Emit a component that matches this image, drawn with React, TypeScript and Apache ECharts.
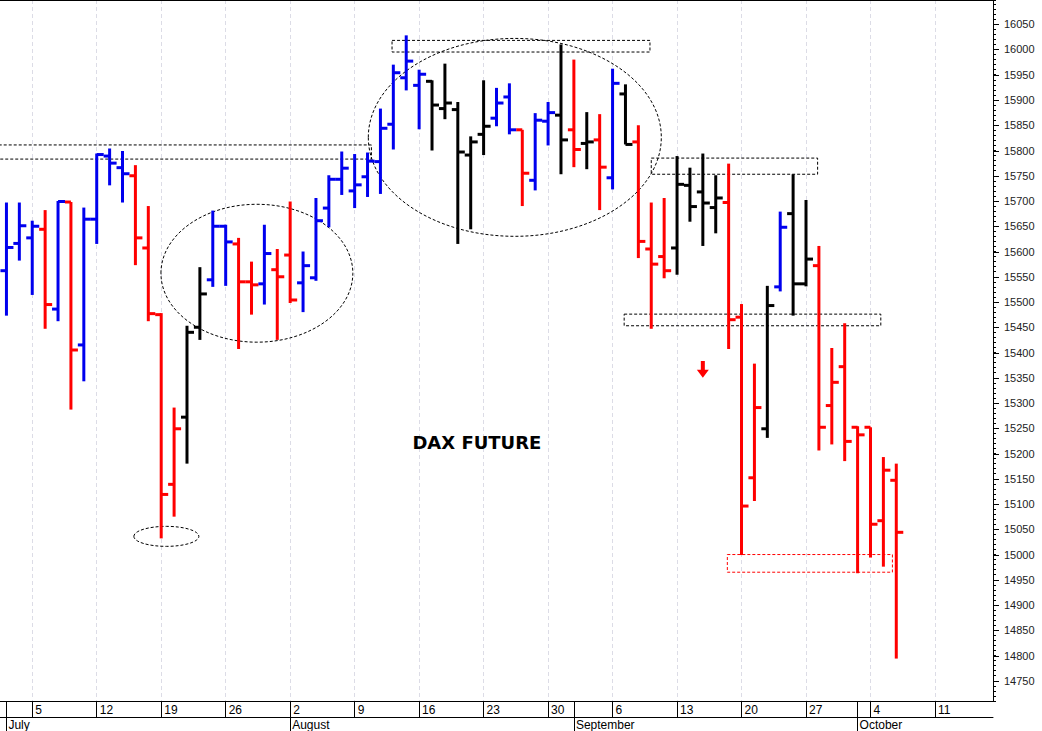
import React, { useEffect, useRef } from 'react';
import * as echarts from 'echarts';

// ---- calendar (trading days, 2021) ----
const julyDays = [1, 2, 5, 6, 7, 8, 9, 12, 13, 14, 15, 16, 19, 20, 21, 22, 23, 26, 27, 28, 29, 30];
const augustDays = [2, 3, 4, 5, 6, 9, 10, 11, 12, 13, 16, 17, 18, 19, 20, 23, 24, 25, 26, 27, 30, 31];
const septemberDays = [1, 2, 3, 6, 7, 8, 9, 10, 13, 14, 15, 16, 17, 20, 21, 22, 23, 24, 27, 28, 29, 30];
const octoberDays = [1, 4, 5, 6, 7, 8, 11, 12, 13, 14, 15];
const monthNames = ['July', 'August', 'September', 'October'];

// ---- DAX future daily OHLC ----
const open = [
  15562, 15616, 15627, 15644, 15486, 15698, 15415, 15664, 15789, 15766,
  15750, 15607, 15475, 15139, 15272, 15450, 15544, 15650, 15615, 15540,
  15536, 15564, 15593, 15538, 15548, 15686, 15743, 15720, 15748, 15778,
  15852, 15944, 15929, 15937, 15883, 15881, 15791, 15832, 15864, 15906,
  15841, 15741, 15858, 15870, 15841, 15814, 15821, 15746, 15912, 15817,
  15605, 15590, 15607, 15731, 15718, 15687, 15697, 15470, 15152, 15249,
  15530, 15675, 15536, 15572, 15295, 15372, 15252, 15252, 15067, 15147,
];
const high = [
  15697, 15697, 15661, 15682, 15700, 15698, 15687, 15794, 15804, 15799,
  15771, 15690, 15478, 15291, 15453, 15569, 15681, 15653, 15627, 15580,
  15653, 15605, 15699, 15600, 15706, 15751, 15798, 15793, 15796, 15883,
  15970, 16028, 15960, 15939, 15972, 15896, 15828, 15939, 15924, 15933,
  15841, 15874, 15896, 16010, 15980, 15876, 15872, 15962, 15931, 15850,
  15697, 15706, 15789, 15766, 15794, 15751, 15774, 15496, 15378, 15532,
  15679, 15753, 15702, 15611, 15409, 15458, 15254, 15252, 15193, 15180,
];
const low = [
  15473, 15582, 15514, 15447, 15462, 15287, 15343, 15615, 15731, 15697,
  15573, 15462, 15032, 15075, 15180, 15425, 15530, 15532, 15407, 15475,
  15495, 15425, 15498, 15480, 15542, 15648, 15712, 15686, 15708, 15714,
  15802, 15919, 15842, 15800, 15862, 15615, 15644, 15791, 15848, 15832,
  15690, 15721, 15810, 15753, 15767, 15763, 15682, 15723, 15812, 15587,
  15447, 15547, 15554, 15659, 15611, 15636, 15407, 14999, 15106, 15231,
  15521, 15473, 15531, 15206, 15218, 15185, 14963, 14994, 14976, 14794,
];
const close = [
  15608, 15651, 15650, 15495, 15699, 15405, 15664, 15792, 15775, 15754,
  15627, 15477, 15119, 15249, 15440, 15516, 15650, 15619, 15540, 15534,
  15596, 15550, 15504, 15572, 15661, 15743, 15765, 15732, 15779, 15844,
  15954, 15977, 15951, 15890, 15894, 15797, 15817, 15848, 15894, 15841,
  15755, 15860, 15875, 15821, 15802, 15817, 15767, 15933, 15812, 15620,
  15575, 15562, 15733, 15689, 15696, 15706, 15465, 15096, 15291, 15493,
  15648, 15536, 15585, 15252, 15341, 15224, 15237, 15060, 15167, 15044,
];
// B = blue, R = red, K = black (indicator colouring)
const barState = [
  'B', 'B', 'B', 'R', 'B', 'R', 'B', 'B', 'B', 'B',
  'R', 'R', 'R', 'R', 'K', 'K', 'B', 'B', 'R', 'R',
  'B', 'R', 'R', 'B', 'B', 'B', 'B', 'B', 'B', 'B',
  'B', 'B', 'B', 'K', 'K', 'K', 'K', 'K', 'B', 'B',
  'R', 'B', 'B', 'K', 'R', 'K', 'R', 'B', 'K', 'R',
  'R', 'R', 'K', 'K', 'K', 'K', 'R', 'R', 'R', 'K',
  'B', 'K', 'K', 'R', 'R', 'R', 'R', 'R', 'R', 'R',
];

const yTickLabels = [
  14750, 14800, 14850, 14900, 14950, 15000, 15050, 15100, 15150, 15200,
  15250, 15300, 15350, 15400, 15450, 15500, 15550, 15600, 15650, 15700,
  15750, 15800, 15850, 15900, 15950, 16000, 16050,
];

// ---- annotations (data coordinates: category index, price) ----
const zones = [
  { x0: -0.6, x1: 28.3, lo: 15783, hi: 15811, red: false },
  { x0: 29.9, x1: 49.9, lo: 15995, hi: 16018, red: false },
  { x0: 50.0, x1: 62.9, lo: 15753, hi: 15785, red: false },
  { x0: 47.9, x1: 67.8, lo: 15453, hi: 15476, red: false },
  { x0: 55.9, x1: 68.7, lo: 14965, hi: 15000, red: true },
];
const ellipses = [
  { cx: 12.4, cy: 15036, rx: 2.52, ry: 19.8 },
  { cx: 19.42, cy: 15557, rx: 7.44, ry: 136.5 },
  { cx: 39.42, cy: 15826, rx: 11.36, ry: 195.9 },
];
const arrowMark = { x: 54, top: 15383, bottom: 15350 };
const titleMark = { x: 36.48, y: 15221, text: 'DAX FUTURE' };

const pad = (n: number) => (n < 10 ? '0' + n : '' + n);
const dates: string[] = [
  ...julyDays.map((d) => `2021-07-${pad(d)}`),
  ...augustDays.map((d) => `2021-08-${pad(d)}`),
  ...septemberDays.map((d) => `2021-09-${pad(d)}`),
  ...octoberDays.map((d) => `2021-10-${pad(d)}`),
];
const isMonday = dates.map((s) => new Date(+s.slice(0, 4), +s.slice(5, 7) - 1, +s.slice(8, 10)).getDay() === 1);
const isMonthStart = dates.map((s, i) => i === 0 || s.slice(5, 7) !== dates[i - 1].slice(5, 7));

const COLORS: Record<string, string> = { B: '#0000ee', R: '#ff0000', K: '#000000' };
const FONT = '"Liberation Sans", Arial, Helvetica, sans-serif';
const TITLE_FONT = '"DejaVu Sans", Verdana, sans-serif';

export default function App() {
  const ref = useRef<HTMLDivElement>(null);
  useEffect(() => {
    if (!ref.current) return;
    const chart = echarts.init(ref.current, null, { renderer: 'svg' });

    const ohlcData = open.map((o, i) => [i, o, high[i], low[i], close[i]]);

    const option: any = {
      animation: false,
      backgroundColor: '#ffffff',
      grid: { left: 0, right: 49, top: 0, bottom: 30, containLabel: false },
      xAxis: [
        {
          type: 'category',
          data: dates,
          boundaryGap: true,
          position: 'bottom',
          axisLine: { show: true, onZero: false, lineStyle: { color: '#000', width: 1 } },
          axisTick: {
            show: true,
            alignWithLabel: true,
            interval: (i: number) => isMonday[i] || isMonthStart[i],
            length: 16,
            lineStyle: { color: '#000', width: 1 },
          },
          axisLabel: {
            show: true,
            interval: (i: number) => isMonday[i],
            formatter: (v: string) => String(+v.slice(8, 10)),
            align: 'left',
            verticalAlign: 'middle',
            margin: 9,
            padding: [0, 0, 0, 3],
            color: '#000',
            fontSize: 12,
            fontFamily: FONT,
          },
          splitLine: {
            show: true,
            alignWithLabel: true,
            interval: (i: number) => isMonday[i],
            lineStyle: { color: '#dcdce6', width: 1, type: [4, 3] },
          },
        },
        {
          type: 'category',
          data: dates,
          boundaryGap: true,
          position: 'bottom',
          offset: 16,
          axisLine: { show: true, onZero: false, lineStyle: { color: '#000', width: 1 } },
          axisTick: {
            show: true,
            alignWithLabel: true,
            interval: (i: number) => isMonthStart[i],
            length: 14,
            lineStyle: { color: '#000', width: 1 },
          },
          axisLabel: {
            show: true,
            interval: (i: number) => isMonthStart[i],
            formatter: (v: string) => monthNames[+v.slice(5, 7) - 7],
            align: 'left',
            verticalAlign: 'middle',
            margin: 8,
            padding: [0, 0, 0, 2],
            color: '#000',
            fontSize: 12,
            fontFamily: FONT,
          },
          splitLine: { show: false },
        },
        {
          type: 'category',
          data: dates,
          position: 'top',
          axisLine: { show: true, onZero: false, lineStyle: { color: '#000', width: 1 } },
          axisTick: { show: false },
          axisLabel: { show: false },
          splitLine: { show: false },
        },
      ],
      yAxis: {
        type: 'value',
        position: 'right',
        min: 14710,
        max: 16098,
        interval: 10,
        axisLine: { show: true, onZero: false, lineStyle: { color: '#000', width: 1 } },
        axisTick: { show: true, length: 3, lineStyle: { color: '#000', width: 1 } },
        axisLabel: {
          show: true,
          margin: 11,
          formatter: (v: number) => (yTickLabels.indexOf(Math.round(v)) >= 0 ? String(Math.round(v)) : ''),
          color: '#222',
          fontSize: 11,
          fontFamily: FONT,
        },
        splitLine: { show: false },
      },
      series: [
        {
          name: 'annotations',
          type: 'custom',
          z: 1,
          silent: true,
          data: [[0, 15500]],
          encode: { x: 0, y: 1 },
          renderItem: (params: any, api: any) => {
            const band = api.size([1, 0])[0];
            const px = (xi: number, price: number) => {
              const p = api.coord([0, price]);
              return [p[0] + xi * band, p[1]];
            };
            const children: any[] = [];
            zones.forEach((z) => {
              const a = px(z.x0, z.hi);
              const b = px(z.x1, z.lo);
              children.push({
                type: 'rect',
                shape: { x: a[0], y: a[1], width: b[0] - a[0], height: b[1] - a[1] },
                style: { fill: 'none', stroke: z.red ? '#ff0000' : '#000', lineWidth: 1, lineDash: [3, 2] },
              });
            });
            ellipses.forEach((e) => {
              const c = px(e.cx, e.cy);
              const r = px(e.cx + e.rx, e.cy - e.ry);
              children.push({
                type: 'ellipse',
                shape: { cx: c[0], cy: c[1], rx: r[0] - c[0], ry: r[1] - c[1] },
                style: { fill: 'none', stroke: '#000', lineWidth: 1, lineDash: [3, 2] },
              });
            });
            const at = px(arrowMark.x, arrowMark.top);
            const ab = px(arrowMark.x, arrowMark.bottom);
            const cx = at[0];
            const hh = 8;
            children.push({
              type: 'polygon',
              shape: {
                points: [
                  [cx - 2, at[1]], [cx + 2, at[1]], [cx + 2, ab[1] - hh], [cx + 6, ab[1] - hh],
                  [cx, ab[1]], [cx - 6, ab[1] - hh], [cx - 2, ab[1] - hh],
                ],
              },
              style: { fill: '#ff0000', stroke: 'none' },
            });
            const t = px(titleMark.x, titleMark.y);
            children.push({
              type: 'text',
              x: t[0],
              y: t[1],
              style: {
                text: titleMark.text,
                fill: '#000',
                font: `bold 18px ${TITLE_FONT}`,
                align: 'center',
                verticalAlign: 'middle',
              },
            });
            return { type: 'group', children };
          },
        },
        {
          name: 'majorTicks',
          type: 'custom',
          z: 2,
          silent: true,
          data: yTickLabels.map((v) => [0, v]),
          encode: { x: 0, y: 1 },
          renderItem: (params: any, api: any) => {
            const p = api.coord([0, api.value(1)]);
            const right = params.coordSys.x + params.coordSys.width;
            return {
              type: 'line',
              shape: { x1: right, y1: Math.round(p[1]) + 0.5, x2: right + 6, y2: Math.round(p[1]) + 0.5 },
              style: { stroke: '#000', lineWidth: 1 },
            };
          },
        },
        {
          name: 'DAX',
          type: 'custom',
          z: 3,
          data: ohlcData,
          encode: { x: 0, y: [1, 2, 3, 4] },
          renderItem: (params: any, api: any) => {
            const x = api.value(0);
            const pO = api.coord([x, api.value(1)]);
            const pH = api.coord([x, api.value(2)]);
            const pL = api.coord([x, api.value(3)]);
            const pC = api.coord([x, api.value(4)]);
            const color = COLORS[barState[params.dataIndex]];
            const style = { stroke: color, lineWidth: 3, fill: 'none' };
            return {
              type: 'group',
              children: [
                { type: 'line', shape: { x1: pH[0], y1: pH[1], x2: pL[0], y2: pL[1] }, style },
                { type: 'line', shape: { x1: pO[0] - 6, y1: pO[1], x2: pO[0], y2: pO[1] }, style },
                { type: 'line', shape: { x1: pC[0], y1: pC[1], x2: pC[0] + 7, y2: pC[1] }, style },
              ],
            };
          },
        },
      ],
    };

    chart.setOption(option);
    return () => chart.dispose();
  }, []);

  return (
    <div
      ref={ref}
      style={{ position: 'fixed', left: 0, top: 0, width: 1042, height: 731, background: '#fff' }}
    />
  );
}
